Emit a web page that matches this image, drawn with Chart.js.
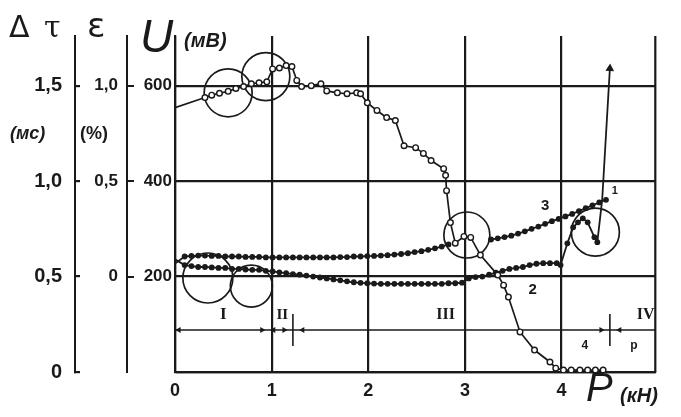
<!DOCTYPE html>
<html>
<head>
<meta charset="utf-8">
<script src="https://cdn.jsdelivr.net/npm/chart.js@4.4.0/dist/chart.umd.min.js"></script>
<style>
  html, body { margin: 0; padding: 0; background: #fff; }
  #wrap { width: 681px; height: 417px; }
</style>
</head>
<body>
<div id="wrap"><canvas id="grafico"></canvas></div>
<script>
// деления осей
const pTicks = [0, 1, 2, 3, 4];
const tauTicks = [0, 0.5, 1.0, 1.5];
const epsTicks = [0, 0.5, 1.0];
const uTicks = [200, 400, 600];

// кривая 1: U (мВ) от P (кН)
const p1 = [0, 0.31, 0.38, 0.46, 0.55, 0.63, 0.71, 0.79, 0.87, 0.95,
  1.01, 1.08, 1.15, 1.21, 1.26, 1.31, 1.41, 1.51, 1.57, 1.68,
  1.78, 1.88, 1.92, 1.99, 2.09, 2.19, 2.28, 2.37, 2.49, 2.57,
  2.65, 2.78, 2.80, 2.81, 2.85, 2.90, 2.99, 3.06, 3.16, 3.34,
  3.40, 3.45, 3.57, 3.72, 3.88, 3.94, 4.02, 4.10, 4.19, 4.27,
  4.35, 4.43];
const u1 = [554, 575, 580, 584, 588, 594, 598, 604, 606, 608,
  635, 637, 642, 640, 611, 598, 600, 604, 589, 585,
  583, 585, 583, 564, 548, 533, 527, 474, 470, 458,
  443, 426, 412, 380, 313, 270, 284, 282, 245, 203,
  182, 157, 84, 46, 21, 8, 4, 4, 4, 4,
  4, 4];

// кривая 2: Δτ (мс)
const p2 = [0, 0.10, 0.17, 0.24, 0.31, 0.38, 0.45, 0.52, 0.59, 0.66,
  0.73, 0.80, 0.87, 0.94, 1.01, 1.08, 1.15, 1.22, 1.29, 1.36,
  1.43, 1.50, 1.57, 1.64, 1.71, 1.78, 1.85, 1.92, 1.99, 2.06,
  2.13, 2.20, 2.27, 2.34, 2.41, 2.48, 2.55, 2.62, 2.69, 2.76,
  2.83, 2.90, 2.97, 3.04, 3.11, 3.18, 3.25, 3.32, 3.39, 3.46,
  3.53, 3.60, 3.67, 3.74, 3.81, 3.88, 3.95, 3.99, 4.06, 4.12,
  4.17, 4.22, 4.27, 4.34, 4.37, 4.42, 4.50];
const tau2 = [0.59, 0.56, 0.555, 0.55, 0.55, 0.548, 0.545, 0.545, 0.54, 0.54,
  0.537, 0.535, 0.535, 0.53, 0.527, 0.522, 0.518, 0.513, 0.51, 0.505,
  0.50, 0.495, 0.49, 0.485, 0.48, 0.475, 0.47, 0.467, 0.465, 0.463,
  0.462, 0.462, 0.462, 0.462, 0.462, 0.462, 0.462, 0.462, 0.462, 0.462,
  0.465, 0.465, 0.468, 0.49, 0.497, 0.50, 0.51, 0.52, 0.53, 0.54,
  0.545, 0.55, 0.56, 0.567, 0.57, 0.57, 0.57, 0.56, 0.674, 0.758,
  0.784, 0.805, 0.784, 0.706, 0.68, 0.90, 1.59];

// кривая 3: ε (%), разрыв внутри кольца у P = 3
const p3 = [0, 0.10, 0.17, 0.24, 0.31, 0.38, 0.45, 0.52, 0.59, 0.66,
  0.73, 0.80, 0.87, 0.94, 1.01, 1.08, 1.15, 1.22, 1.29, 1.36,
  1.43, 1.50, 1.57, 1.64, 1.71, 1.78, 1.85, 1.92, 1.99, 2.06,
  2.13, 2.20, 2.27, 2.34, 2.41, 2.48, 2.55, 2.62, 2.69, 2.76,
  2.83, 3.05, 3.27, 3.34, 3.41, 3.48, 3.55, 3.62, 3.69, 3.76,
  3.83, 3.90, 3.97, 4.04, 4.11, 4.18, 4.25, 4.32, 4.39, 4.46];
const eps3 = [0.068, 0.105, 0.108, 0.11, 0.11, 0.108, 0.108, 0.105, 0.105, 0.105,
  0.103, 0.103, 0.103, 0.10, 0.10, 0.10, 0.10, 0.10, 0.10, 0.10,
  0.10, 0.10, 0.10, 0.10, 0.102, 0.102, 0.105, 0.105, 0.107, 0.108,
  0.11, 0.112, 0.115, 0.118, 0.122, 0.128, 0.133, 0.14, 0.148, 0.157,
  0.168, null, 0.194, 0.20, 0.207, 0.214, 0.225, 0.237, 0.25, 0.262,
  0.276, 0.29, 0.302, 0.315, 0.328, 0.343, 0.358, 0.373, 0.388, 0.402];

// кольца, выделяющие характерные участки (в мВ)
const ringP = [0.55, 0.94, 0.34, 0.79, 3.02, 4.35];
const ringU = [585, 619, 197, 180, 287, 293];

// граница зон I–IV (по шкале Δτ) и стрелки на ней
const zoneTau = 0.22;
const zoneEnds = [0, 4.97];
const arrowP = [0.04, 0.9, 1.02, 1.13, 1.32, 4.41, 4.6];
const crossP = [1.22, 4.5];

const ink = '#1a1a1a';
const pts = (xs, ys) => xs.map((x, i) => ({ x, y: ys[i] }));
const comma = v => v === 0 ? '0' : v.toFixed(1).replace('.', ',');

// подписи на поле графика
const notes = [
  { text: 'I', p: 0.50, t: 0.30, font: 'bold 17px "Liberation Serif"' },
  { text: 'II', p: 1.11, t: 0.30, font: 'bold 15px "Liberation Serif"' },
  { text: 'III', p: 2.80, t: 0.30, font: 'bold 16px "Liberation Serif"' },
  { text: 'IV', p: 4.87, t: 0.30, font: 'bold 16px "Liberation Serif"' },
  { text: '4', p: 4.24, t: 0.14, font: 'bold 12px "Liberation Sans"' },
  { text: 'p', p: 4.75, t: 0.14, font: 'bold 12px "Liberation Sans"' },
  { text: '3', p: 3.83, t: 0.87, font: 'bold 15px "Liberation Sans"' },
  { text: '2', p: 3.70, t: 0.43, font: 'bold 15px "Liberation Sans"' },
  { text: '1', p: 4.55, t: 0.95, font: 'bold 11px "Liberation Sans"' }
];

const decor = {
  id: 'decor',
  afterDraw(chart) {
    const { ctx, chartArea: a, scales } = chart;
    ctx.save();
    ctx.strokeStyle = ink;
    ctx.lineWidth = 2.2;
    ctx.beginPath();
    ctx.moveTo(a.right, a.top);
    ctx.lineTo(a.right, a.bottom);
    ctx.stroke();

    ctx.fillStyle = ink;
    ctx.textBaseline = 'alphabetic';
    ctx.textAlign = 'left';
    ctx.font = '30px "DejaVu Sans"';
    ctx.fillText('Δ', 9, 37);
    ctx.font = '30px "DejaVu Serif"';
    ctx.fillText('τ', 44, 37);
    ctx.font = '34px "DejaVu Sans"';
    ctx.fillText('ε', 87, 37);
    ctx.font = 'italic 46px "Liberation Sans"';
    ctx.fillText('U', 140, 52);
    ctx.font = 'italic bold 20px "Liberation Sans"';
    ctx.fillText('(мВ)', 184, 47);
    ctx.font = 'italic bold 18px "Liberation Sans"';
    ctx.fillText('(мс)', 10, 139);
    ctx.font = 'bold 18px "Liberation Sans"';
    ctx.fillText('(%)', 80, 139);
    ctx.font = 'italic 40px "Liberation Sans"';
    ctx.fillText('P', 586, 401);
    ctx.font = 'italic bold 20px "Liberation Sans"';
    ctx.fillText('(кН)', 620, 402);

    ctx.textAlign = 'center';
    ctx.textBaseline = 'middle';
    notes.forEach(n => {
      ctx.font = n.font;
      ctx.fillText(n.text, scales.x.getPixelForValue(n.p), scales.yTau.getPixelForValue(n.t));
    });
    ctx.restore();
  }
};

const lastIdx = p2.length - 1;

new Chart(document.getElementById('grafico'), {
  type: 'line',
  data: {
    datasets: [
      {
        label: '1',
        data: pts(p1, u1),
        yAxisID: 'yU',
        borderColor: ink,
        borderWidth: 1.7,
        pointRadius: c => c.dataIndex === 0 ? 0 : 2.8,
        pointBorderWidth: 1.4,
        pointBorderColor: ink,
        pointBackgroundColor: '#fff'
      },
      {
        label: '2',
        data: pts(p2, tau2),
        yAxisID: 'yTau',
        borderColor: ink,
        borderWidth: 1.8,
        pointStyle: c => c.dataIndex === lastIdx ? 'triangle' : 'circle',
        pointRotation: c => c.dataIndex === lastIdx ? 3 : 0,
        pointRadius: c => (c.dataIndex === 0 || c.dataIndex === lastIdx - 1) ? 0 : (c.dataIndex === lastIdx ? 5 : 2.9),
        pointBorderWidth: 0,
        pointBackgroundColor: ink
      },
      {
        label: '3',
        data: pts(p3, eps3),
        yAxisID: 'yEps',
        spanGaps: false,
        borderColor: ink,
        borderWidth: 1.8,
        pointRadius: c => c.dataIndex === 0 ? 0 : 2.9,
        pointBorderWidth: 0,
        pointBackgroundColor: ink
      },
      {
        label: 'зоны',
        data: zoneEnds.map(x => ({ x, y: zoneTau })),
        yAxisID: 'yTau',
        borderColor: ink,
        borderWidth: 1.6,
        pointRadius: 0
      },
      {
        label: 'стрелки',
        data: arrowP.map(x => ({ x, y: zoneTau })),
        yAxisID: 'yTau',
        showLine: false,
        pointStyle: 'triangle',
        pointRotation: [-90, 90, -90, 90, -90, 90, -90],
        pointRadius: 3.5,
        pointBorderWidth: 0,
        pointBackgroundColor: ink
      },
      {
        label: 'границы',
        data: crossP.map(x => ({ x, y: zoneTau })),
        yAxisID: 'yTau',
        showLine: false,
        pointStyle: 'line',
        pointRotation: 90,
        pointRadius: 16,
        pointBorderWidth: 1.6,
        pointBorderColor: ink
      },
      {
        label: 'кольца',
        data: pts(ringP, ringU),
        yAxisID: 'yU',
        showLine: false,
        order: 10,
        pointStyle: 'circle',
        pointRadius: [24, 24, 25, 21, 23, 24],
        pointBorderWidth: 1.7,
        pointBorderColor: ink,
        pointBackgroundColor: 'rgba(0,0,0,0)'
      }
    ]
  },
  options: {
    responsive: true,
    maintainAspectRatio: false,
    animation: false,
    events: [],
    layout: { padding: { top: 36, right: 23, left: 0, bottom: 0 } },
    plugins: { legend: { display: false }, tooltip: { enabled: false } },
    scales: {
      x: {
        type: 'linear',
        min: 0,
        max: 4.97,
        afterBuildTicks: s => { s.ticks = pTicks.map(v => ({ value: v })); },
        afterFit: s => { s.height = 45; },
        grid: { color: ink, lineWidth: 2.2, drawTicks: false },
        border: { color: ink, width: 2.2 },
        ticks: {
          color: ink,
          padding: 8,
          font: { family: 'Liberation Sans', size: 18, weight: 'bold' },
          callback: v => String(v)
        }
      },
      yTau: {
        type: 'linear',
        position: 'left',
        weight: 3,
        min: 0,
        max: 1.76,
        afterBuildTicks: s => { s.ticks = tauTicks.map(v => ({ value: v })); },
        afterFit: s => { s.width = 75; },
        grid: { color: ink, lineWidth: 2.2, tickLength: -5 },
        border: { color: ink, width: 2 },
        ticks: {
          color: ink,
          padding: 18,
          font: { family: 'Liberation Sans', size: 20, weight: 'bold' },
          callback: v => comma(v)
        }
      },
      yEps: {
        type: 'linear',
        position: 'left',
        weight: 2,
        min: -0.5,
        max: 1.26,
        afterBuildTicks: s => { s.ticks = epsTicks.map(v => ({ value: v })); },
        afterFit: s => { s.width = 52; },
        grid: { drawOnChartArea: false, color: ink, lineWidth: 2, tickLength: -7 },
        border: { color: ink, width: 2 },
        ticks: {
          color: ink,
          padding: 16,
          font: { family: 'Liberation Sans', size: 17, weight: 'bold' },
          callback: v => comma(v)
        }
      },
      yU: {
        type: 'linear',
        position: 'left',
        weight: 1,
        min: 0,
        max: 704,
        afterBuildTicks: s => { s.ticks = uTicks.map(v => ({ value: v })); },
        afterFit: s => { s.width = 48; },
        grid: { drawOnChartArea: false, drawTicks: false },
        border: { color: ink, width: 2.2 },
        ticks: {
          color: ink,
          padding: 3,
          font: { family: 'Liberation Sans', size: 17, weight: 'bold' },
          callback: v => String(v)
        }
      }
    }
  },
  plugins: [decor]
});
</script>
</body>
</html>
